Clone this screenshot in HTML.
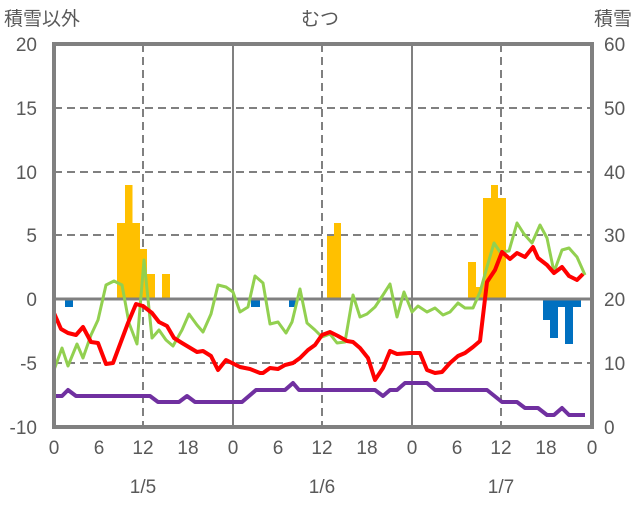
<!DOCTYPE html>
<html><head><meta charset="utf-8"><style>
body{margin:0;background:#fff;}
svg text{font-family:"Liberation Sans","Noto Sans CJK JP",sans-serif;fill:#595959;font-size:19px;}
</style></head><body>
<svg width="636" height="501" viewBox="0 0 636 501" xmlns="http://www.w3.org/2000/svg">
<rect width="636" height="501" fill="#fff"/>
<!-- grid -->
<g stroke="#808080" stroke-width="2" stroke-dasharray="8,5">
<line x1="54" y1="108" x2="592" y2="108"/>
<line x1="54" y1="172" x2="592" y2="172"/>
<line x1="54" y1="235" x2="592" y2="235"/>
<line x1="54" y1="363" x2="592" y2="363"/>
<line x1="143" y1="44" x2="143" y2="427"/>
<line x1="322" y1="44" x2="322" y2="427"/>
<line x1="501" y1="44" x2="501" y2="427"/>
</g>
<g stroke="#808080" stroke-width="2">
<line x1="233" y1="44" x2="233" y2="427"/>
<line x1="412" y1="44" x2="412" y2="427"/>
</g>
<!-- orange bars -->
<g fill="#FFC000">
<rect x="117" y="223" width="8" height="76"/>
<rect x="125" y="185" width="7.5" height="114"/>
<rect x="132" y="223" width="8" height="76"/>
<rect x="140" y="249" width="7" height="50"/>
<rect x="147" y="274" width="8" height="25"/>
<rect x="162" y="274" width="8" height="25"/>
<rect x="327" y="236" width="7" height="63"/>
<rect x="334" y="223" width="7" height="76"/>
<rect x="468" y="262" width="8" height="37"/>
<rect x="476" y="287" width="7" height="12"/>
<rect x="483" y="198" width="8" height="101"/>
<rect x="491" y="185" width="7" height="114"/>
<rect x="498" y="198" width="8" height="101"/>
</g>
<g fill="#0070C0">
<rect x="65" y="299" width="8" height="8"/>
<rect x="251" y="299" width="9" height="8"/>
<rect x="289" y="299" width="7" height="8"/>
<rect x="543" y="299" width="7.5" height="21"/>
<rect x="550" y="299" width="8" height="39"/>
<rect x="558" y="299" width="7" height="8"/>
<rect x="565" y="299" width="8" height="45"/>
<rect x="573" y="299" width="8" height="8"/>
</g>
<line x1="54" y1="299" x2="592" y2="299" stroke="#808080" stroke-width="3"/>
<!-- lines -->
<polyline fill="none" stroke="#92D050" stroke-width="3" stroke-linejoin="round" points="54,370 62,348 68,366 77,344 83,358 91,335 98,320 106,285 114,281 122,285 129,323 137,344 144,260 152,338 159,330 166,340 173,346 182,330 189,314 197,325 203,332 211,314 218,285 226,287 233,292 240,312 248,307 255,276 263,283 270,324 278,322 286,333 292,322 300,289 307,323 315,330 322,337 330,334 337,343 345,342 353,295 360,317 367,314 375,307 383,295 390,284 397,317 404,292 412,312 418,306 427,312 435,308 443,315 450,312 458,303 465,308 473,308 480,292 487,267 494,243 500,252 509,251 517,223 524,234 532,243 540,225 547,238 554,272 562,250 569,248 577,257 585,275"/>
<polyline fill="none" stroke="#FF0000" stroke-width="4" stroke-linejoin="round" points="54,313 61,329 68,333 76,335 83,327 91,342 98,343 106,364 113,363 128,323 136,304 143,306 152,313 159,322 167,326 174,338 182,343 197,352 203,351 211,356 218,370 226,360 240,367 250,369 260,373 263,373 270,368 278,369 285,365 293,363 300,358 308,350 315,345 322,335 330,332 338,336 347,341 353,342 360,348 368,358 375,380 383,368 390,351 397,354 410,353 420,353 427,370 435,373 442,372 450,363 458,356 465,353 473,347 480,341 487,282 495,270 502,252 510,259 517,253 525,257 533,247 538,258 547,265 554,273 562,267 569,276 577,280 583,274"/>
<polyline fill="none" stroke="#7030A0" stroke-width="4" stroke-linejoin="round" points="54,396 62,396 68,390 76,396 150,396 158,402 179,402 187,396 195,402 242,402 256,390 285,390 293,383 299,390 375,390 383,396 390,390 397,390 405,383 427,383 435,390 487,390 502,402 517,402 525,408 538,408 547,415 554,415 562,408 569,415 585,415"/>
<!-- frame -->
<rect x="54" y="44" width="538" height="383" fill="none" stroke="#808080" stroke-width="4"/>
<!-- texts -->
<text x="4" y="25">積雪以外</text>
<text x="320" y="25" text-anchor="middle">むつ</text>
<text x="632" y="25" text-anchor="end">積雪</text>
<g text-anchor="end">
<text x="37" y="51">20</text><text x="37" y="115">15</text><text x="37" y="179">10</text>
<text x="37" y="242">5</text><text x="37" y="306">0</text><text x="37" y="370">-5</text><text x="37" y="434">-10</text>
</g>
<g text-anchor="start">
<text x="604" y="51">60</text><text x="604" y="115">50</text><text x="604" y="179">40</text>
<text x="604" y="242">30</text><text x="604" y="306">20</text><text x="604" y="370">10</text><text x="604" y="434">0</text>
</g>
<g text-anchor="middle">
<text x="54" y="454">0</text><text x="99" y="454">6</text><text x="143" y="454">12</text><text x="188" y="454">18</text>
<text x="233" y="454">0</text><text x="278" y="454">6</text><text x="322" y="454">12</text><text x="367" y="454">18</text>
<text x="412" y="454">0</text><text x="457" y="454">6</text><text x="501" y="454">12</text><text x="546" y="454">18</text>
<text x="592" y="454">0</text>
<text x="143" y="493">1/5</text><text x="322" y="493">1/6</text><text x="501" y="493">1/7</text>
</g>
</svg>
</body></html>
